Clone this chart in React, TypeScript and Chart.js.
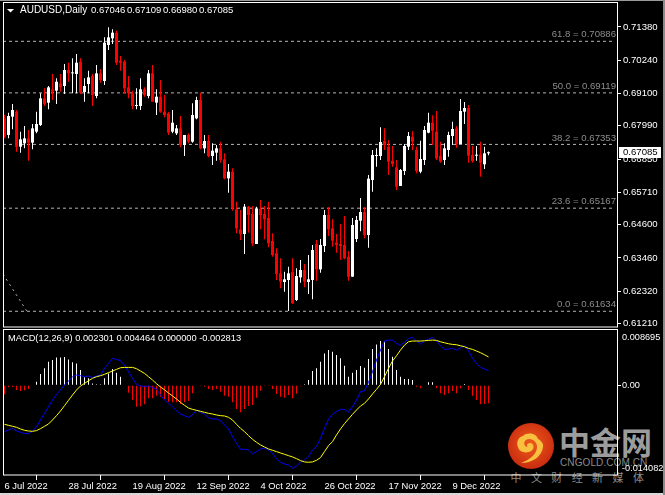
import React, { useEffect, useRef } from "react";
import { Chart, registerables } from "chart.js";

Chart.register(...registerables);

const opens = [0.68246,0.67675,0.68303,0.68474,0.67275,0.67389,0.6756,0.67412,0.67789,0.68017,0.68931,0.68783,0.6924,0.69194,0.69445,0.69354,0.69902,0.69788,0.69765,0.70188,0.69148,0.69422,0.69697,0.69011,0.69788,0.69525,0.70759,0.70987,0.71182,0.70222,0.70188,0.69308,0.69103,0.68668,0.68668,0.6924,0.69011,0.69788,0.68783,0.68988,0.68474,0.68417,0.67789,0.67732,0.67903,0.67332,0.67675,0.67446,0.68246,0.68874,0.67218,0.67469,0.66955,0.67069,0.67218,0.66841,0.6619,0.66418,0.65128,0.64442,0.64282,0.65219,0.64968,0.6394,0.65139,0.64968,0.6483,0.64042,0.6362,0.62934,0.62637,0.62706,0.6298,0.62021,0.62797,0.63048,0.62637,0.62706,0.6394,0.63071,0.63871,0.64933,0.64476,0.63985,0.6394,0.63905,0.63505,0.6282,0.64111,0.64739,0.65036,0.64248,0.66133,0.66955,0.66955,0.67469,0.67275,0.66795,0.66567,0.65927,0.66441,0.67275,0.67618,0.67161,0.66418,0.66818,0.67755,0.68097,0.67789,0.66966,0.66818,0.67161,0.67641,0.67903,0.67366,0.68474,0.686,0.66989,0.66966,0.67012,0.6667,0.67046];
const highs = [0.6836,0.6844,0.68737,0.68531,0.67789,0.67983,0.67846,0.68052,0.68474,0.69103,0.69274,0.69354,0.69765,0.69617,0.69765,0.70108,0.70153,0.70302,0.70451,0.70302,0.69617,0.69879,0.69765,0.70074,0.69925,0.71022,0.71364,0.71296,0.7125,0.70382,0.70245,0.69697,0.69194,0.69274,0.69617,0.69308,0.69902,0.70074,0.6924,0.69559,0.69045,0.68474,0.68531,0.68017,0.68326,0.67675,0.67732,0.6876,0.68988,0.69125,0.67675,0.67675,0.67389,0.67332,0.67446,0.67047,0.66681,0.66533,0.6539,0.65105,0.6531,0.65242,0.65242,0.65219,0.65447,0.65242,0.6539,0.64305,0.63791,0.63448,0.62992,0.63163,0.63448,0.63106,0.63391,0.63254,0.63563,0.63905,0.64077,0.64111,0.65105,0.65196,0.64785,0.64282,0.64625,0.64899,0.63688,0.6483,0.64899,0.65516,0.65196,0.66304,0.67161,0.67218,0.67938,0.67903,0.67503,0.67298,0.66818,0.6651,0.67366,0.67778,0.67801,0.67275,0.67481,0.67983,0.6844,0.68349,0.68497,0.67446,0.67389,0.67789,0.68132,0.67983,0.68908,0.68805,0.68703,0.67298,0.67298,0.67446,0.67275,0.67109];
const lows = [0.6756,0.6756,0.67869,0.67103,0.67069,0.67218,0.66795,0.67184,0.67732,0.67983,0.68668,0.68554,0.68874,0.68737,0.6916,0.6908,0.69502,0.69103,0.69103,0.6908,0.68817,0.69103,0.68668,0.68931,0.69468,0.69388,0.70588,0.70793,0.70074,0.69879,0.69103,0.68931,0.68554,0.68554,0.68531,0.68988,0.68931,0.68817,0.6836,0.6844,0.6828,0.67675,0.67732,0.67675,0.67252,0.66955,0.67389,0.67412,0.68212,0.67184,0.67047,0.66909,0.66646,0.66795,0.66727,0.66156,0.65699,0.65082,0.64305,0.64077,0.63597,0.64328,0.63871,0.6394,0.64442,0.641,0.63825,0.63505,0.62706,0.6242,0.62306,0.61644,0.61884,0.61986,0.62614,0.62454,0.62226,0.62043,0.62683,0.62957,0.63665,0.64214,0.63848,0.63643,0.63391,0.63414,0.62683,0.6282,0.64008,0.64374,0.64134,0.63814,0.65733,0.6659,0.66818,0.67161,0.66304,0.6659,0.6579,0.65927,0.66304,0.67161,0.67161,0.66361,0.66361,0.66647,0.67732,0.67332,0.66818,0.66727,0.66646,0.66932,0.67332,0.67241,0.67366,0.68052,0.66727,0.66727,0.66795,0.66247,0.6651,0.6698];
const closes = [0.67618,0.68326,0.68531,0.67275,0.67526,0.6756,0.67412,0.67903,0.68052,0.68931,0.68737,0.69308,0.6916,0.69502,0.69308,0.69902,0.69788,0.69811,0.70153,0.69125,0.69354,0.69651,0.69045,0.69788,0.69559,0.70839,0.71022,0.71182,0.70153,0.70153,0.69274,0.69103,0.68668,0.68691,0.6924,0.69045,0.69788,0.68817,0.68988,0.68474,0.6836,0.67755,0.68097,0.67903,0.67332,0.67675,0.67446,0.6836,0.68874,0.67218,0.67469,0.66955,0.67138,0.67218,0.66818,0.6619,0.66418,0.65162,0.64476,0.64282,0.65219,0.64933,0.63962,0.6515,0.64933,0.64785,0.63962,0.63563,0.62911,0.62649,0.62729,0.62934,0.61906,0.62843,0.63048,0.62649,0.62729,0.63734,0.63071,0.63905,0.64933,0.64442,0.64054,0.63905,0.63871,0.63448,0.6282,0.64591,0.64762,0.65036,0.64248,0.66178,0.6699,0.6699,0.67435,0.67332,0.66761,0.66681,0.65904,0.66476,0.67298,0.67641,0.67446,0.66441,0.66852,0.67846,0.68097,0.67823,0.66875,0.66761,0.67218,0.67675,0.6788,0.67366,0.68497,0.686,0.66966,0.66784,0.66989,0.66727,0.67047,0.67085];

const macdHist = [-0.00141,-0.00031,-0.00026,-0.00073,-0.00089,-0.00078,-0.00058,0,0.00058,0.00178,0.00267,0.00371,0.00397,0.00439,0.00439,0.00445,0.00408,0.00361,0.00345,0.00241,0.00126,0.0011,0.00031,0.00016,0.00016,0.0011,0.00188,0.00256,0.00199,0.00136,0,-0.00115,-0.0023,-0.00335,-0.00329,-0.00298,-0.00204,-0.00204,-0.00162,-0.00178,-0.00214,-0.00256,-0.00267,-0.00267,-0.00293,-0.00267,-0.00246,-0.00126,0.0001,-0.0001,-0.00021,-0.00058,-0.00073,-0.00058,-0.00099,-0.00162,-0.00178,-0.00267,-0.00371,-0.00424,-0.00371,-0.00324,-0.00309,-0.00194,-0.00084,-0.0001,-0.0001,-0.00058,-0.00136,-0.00178,-0.00194,-0.00152,-0.00204,-0.00131,-0.00016,0.00016,0.00084,0.00225,0.00267,0.00371,0.00502,0.00554,0.00528,0.00476,0.00424,0.00309,0.00136,0.00199,0.00241,0.00303,0.00277,0.00413,0.0057,0.00643,0.00696,0.00696,0.0057,0.0045,0.00241,0.00136,0.00099,0.00099,0.00084,-0.00021,-0.00047,0,0.00047,0.00047,-0.00047,-0.00126,-0.00152,-0.00126,-0.00089,-0.00126,-0.00047,0.00021,-0.00073,-0.00162,-0.0023,-0.00298,-0.00293,-0.002813];
const macdLine = [-0.00727,-0.00701,-0.00675,-0.00717,-0.00737,-0.00758,-0.00758,-0.00717,-0.00649,-0.00544,-0.00439,-0.00335,-0.0023,-0.00141,-0.00073,0.00005,0.00068,0.00136,0.00162,0.00152,0.00136,0.00146,0.00126,0.00146,0.00162,0.00267,0.00345,0.00424,0.00408,0.00387,0.00319,0.00214,0.0011,0.00016,-0.0001,-0.00016,-0.0001,-0.00037,-0.00058,-0.00152,-0.0023,-0.00282,-0.00335,-0.00397,-0.0045,-0.00476,-0.00502,-0.00465,-0.00387,-0.00424,-0.00455,-0.00507,-0.00528,-0.00528,-0.00554,-0.00622,-0.00685,-0.00805,-0.0091,-0.01004,-0.01004,-0.01015,-0.01077,-0.01041,-0.00999,-0.00988,-0.01015,-0.01067,-0.01156,-0.01208,-0.01234,-0.0125,-0.01302,-0.01266,-0.01208,-0.01172,-0.01119,-0.01015,-0.00962,-0.00832,-0.00675,-0.00533,-0.00455,-0.00413,-0.00377,-0.00377,-0.00424,-0.00335,-0.0023,-0.00099,-0.00084,0.00047,0.00214,0.00397,0.00554,0.00696,0.00711,0.00711,0.00659,0.00633,0.00675,0.00737,0.00753,0.00701,0.00649,0.00701,0.00727,0.00753,0.00696,0.00622,0.00565,0.0057,0.00581,0.00554,0.00591,0.00622,0.00539,0.00424,0.00345,0.00282,0.00256,0.002301];
const signalLine = [-0.00612,-0.00628,-0.00643,-0.00659,-0.00685,-0.00706,-0.00717,-0.00722,-0.00711,-0.0068,-0.00643,-0.00607,-0.00544,-0.00476,-0.00403,-0.00319,-0.00235,-0.00152,-0.00073,-0.0001,0.00031,0.00073,0.0011,0.00136,0.00152,0.00173,0.00199,0.00225,0.00251,0.00277,0.00282,0.00282,0.00282,0.00262,0.00225,0.00188,0.00136,0.00084,0.00026,-0.00026,-0.00068,-0.0012,-0.00167,-0.00214,-0.00267,-0.00314,-0.00356,-0.00377,-0.00392,-0.00408,-0.00424,-0.00439,-0.0045,-0.00465,-0.00476,-0.00481,-0.00502,-0.00544,-0.00612,-0.00675,-0.00727,-0.0079,-0.00847,-0.00894,-0.00936,-0.00968,-0.00999,-0.0102,-0.01041,-0.01062,-0.01083,-0.01104,-0.01124,-0.01151,-0.01182,-0.01203,-0.01208,-0.01203,-0.01177,-0.01135,-0.01041,-0.00947,-0.00884,-0.00779,-0.00685,-0.00601,-0.00528,-0.00455,-0.00387,-0.00324,-0.00282,-0.00214,-0.00136,-0.00063,0.00016,0.00136,0.00267,0.00382,0.00465,0.00554,0.00633,0.00685,0.00696,0.00696,0.00696,0.00701,0.00706,0.00711,0.00706,0.00685,0.00669,0.00654,0.00643,0.00638,0.00622,0.00607,0.00581,0.00565,0.00539,0.00513,0.00481,0.004464];

const priceTicks = [0.7138, 0.7024, 0.691, 0.6799, 0.6685, 0.6571, 0.646, 0.6346, 0.6232, 0.6121];
const fibLevels = [61.8, 50.0, 38.2, 23.6, 0.0];
const fibPrices = [0.70886, 0.69119, 0.67353, 0.65167, 0.61634];
const fibTrendX = [-0.375, 5.6];
const fibTrendY = [0.62911, 0.61634];
const dateTickIndex = [0, 16, 32, 48, 64, 80, 96, 112];
const dateTickLabels = ["6 Jul 2022", "28 Jul 2022", "19 Aug 2022", "12 Sep 2022", "4 Oct 2022", "26 Oct 2022", "17 Nov 2022", "9 Dec 2022"];
const macdTickValues = [0.0076, 0, -0.01298];
const macdTickLabels = ["0.008695", "0.00", "-0.014082"];
const headerValues = ["0.67046", "0.67109", "0.66980", "0.67085"];

const XMIN = -0.375;
const XMAX = 153.375;
const FONT = '"Liberation Sans", Arial, sans-serif';
const UP = "#ffffff";
const DOWN = "#ff0000";

const noMargins = (s: any) => {
  s.paddingTop = 0;
  s.paddingBottom = 0;
  s.paddingLeft = 0;
  s.paddingRight = 0;
};

const frame = (extra?: (c: any) => void) => ({
  id: "frame",
  afterDraw(c: any) {
    const { ctx, chartArea: a } = c;
    ctx.save();
    ctx.strokeStyle = "#ffffff";
    ctx.lineWidth = 1;
    ctx.strokeRect(a.left + 0.5, a.top - 0.5, a.right - a.left - 1, a.bottom - a.top + 0.5);
    ctx.restore();
    if (extra) extra(c);
  },
});

const xBase = (show: boolean) => ({
  type: "linear",
  offset: false,
  min: XMIN,
  max: XMAX,
  display: show,
  border: { display: false },
  grid: { drawOnChartArea: false, drawTicks: true, tickLength: 5, color: "#ffffff" },
  afterBuildTicks: (s: any) => {
    s.ticks = dateTickIndex.map((value) => ({ value }));
  },
  afterFit: (s: any) => {
    if (show) s.height = 20;
    noMargins(s);
  },
  ticks: {
    autoSkip: false,
    maxRotation: 0,
    minRotation: 0,
    align: "start",
    padding: 1,
    color: "#ffffff",
    font: { family: FONT, size: 9.4 },
    callback: (_v: any, i: number) => dateTickLabels[i],
  },
});

export default function App() {
  const priceRef = useRef<HTMLCanvasElement>(null);
  const macdRef = useRef<HTMLCanvasElement>(null);

  useEffect(() => {
    const idx = opens.map((_, i) => i);
    const colors = idx.map((i) => (closes[i] >= opens[i] ? UP : DOWN));

    const priceOverlay = (c: any) => {
      const { ctx, scales } = c;
      const y = scales.y;
      ctx.save();
      ctx.textBaseline = "middle";
      // header
      ctx.fillStyle = "#ffffff";
      ctx.beginPath();
      ctx.moveTo(7, 9);
      ctx.lineTo(14, 9);
      ctx.lineTo(10.5, 12.5);
      ctx.closePath();
      ctx.fill();
      ctx.font = `10px ${FONT}`;
      ctx.fillText("AUDUSD,Daily", 20, 10.5);
      ctx.font = `9.5px ${FONT}`;
      headerValues.forEach((t, i) => ctx.fillText(t, 91 + 36 * i, 10.5));
      // fib labels
      ctx.fillStyle = "#8c8c8c";
      ctx.font = `9.6px ${FONT}`;
      ctx.textAlign = "right";
      fibLevels.forEach((lv, i) => {
        ctx.fillText(`${lv.toFixed(1)} = ${fibPrices[i].toFixed(5)}`, 616, y.getPixelForValue(fibPrices[i]) - 6.5);
      });
      // current price
      const py = Math.round(y.getPixelForValue(closes[closes.length - 1]));
      ctx.fillStyle = "#ffffff";
      ctx.fillRect(619, py - 5, 42, 11);
      ctx.fillStyle = "#000000";
      ctx.textAlign = "left";
      ctx.font = `9.6px ${FONT}`;
      ctx.fillText(closes[closes.length - 1].toFixed(5), 623, py + 0.5);
      ctx.restore();
    };

    const macdOverlay = (c: any) => {
      const { ctx } = c;
      ctx.save();
      ctx.textBaseline = "middle";
      ctx.fillStyle = "#ffffff";
      ctx.font = `9.3px ${FONT}`;
      ctx.fillText(
        `MACD(12,26,9) ${macdLine[macdLine.length - 1].toFixed(6)} ${signalLine[signalLine.length - 1].toFixed(6)} 0.000000 ${macdHist[macdHist.length - 1].toFixed(6)}`,
        8,
        9.5
      );
      ctx.restore();
    };

    const price = new Chart(priceRef.current!, {
      type: "bar",
      data: {
        datasets: [
          ...fibPrices.map((p) => ({
            type: "line",
            data: [
              { x: XMIN, y: p },
              { x: 152.4, y: p },
            ],
            borderColor: "#b4b4b4",
            borderWidth: 1,
            borderDash: [3, 3],
            pointRadius: 0,
            order: 5,
          })),
          {
            type: "line",
            data: fibTrendX.map((x, i) => ({ x, y: fibTrendY[i] })),
            borderColor: "#b4b4b4",
            borderWidth: 1,
            borderDash: [2, 4],
            pointRadius: 0,
            order: 5,
          },
          {
            type: "bar",
            data: idx.map((i) => ({ x: i, y: [lows[i], highs[i]] })),
            backgroundColor: colors,
            maxBarThickness: 1,
            barPercentage: 1,
            grouped: false,
            order: 2,
          },
          {
            type: "bar",
            data: idx.map((i) => ({ x: i, y: [Math.min(opens[i], closes[i]), Math.max(opens[i], closes[i])] })),
            backgroundColor: colors,
            maxBarThickness: 3,
            barPercentage: 1,
            minBarLength: 1,
            grouped: false,
            order: 1,
          },
        ],
      } as any,
      options: {
        animation: false,
        responsive: false,
        devicePixelRatio: 1,
        layout: { padding: { left: 3, top: 3, bottom: 2, right: 0 } },
        plugins: { legend: { display: false }, tooltip: { enabled: false } },
        scales: {
          x: xBase(false),
          y: {
            position: "right",
            min: 0.61095,
            max: 0.72199,
            border: { display: false },
            grid: { drawOnChartArea: false, drawTicks: true, tickLength: 3, color: "#ffffff" },
            afterBuildTicks: (s: any) => {
              s.ticks = priceTicks.map((value) => ({ value }));
            },
            afterFit: (s: any) => {
              s.width = 47;
              noMargins(s);
            },
            ticks: {
              padding: 2,
              autoSkip: false,
              color: "#ffffff",
              font: { family: FONT, size: 9.6 },
              callback: (v: any) => Number(v).toFixed(5),
            },
          },
        },
      } as any,
      plugins: [frame(priceOverlay)],
    } as any);

    const macd = new Chart(macdRef.current!, {
      type: "bar",
      data: {
        datasets: [
          {
            type: "line",
            data: idx.map((i) => ({ x: i, y: signalLine[i] })),
            borderColor: "#ffff00",
            borderWidth: 1,
            pointRadius: 0,
            tension: 0,
            order: 1,
          },
          {
            type: "line",
            data: idx.map((i) => ({ x: i, y: macdLine[i] })),
            borderColor: "#0000ff",
            borderWidth: 1,
            pointRadius: 0,
            tension: 0,
            order: 2,
          },
          {
            type: "bar",
            data: idx.map((i) => ({ x: i, y: [0, macdHist[i]] })),
            backgroundColor: idx.map((i) => (macdHist[i] >= 0 ? UP : DOWN)),
            maxBarThickness: 1,
            barPercentage: 1,
            grouped: false,
            order: 3,
          },
        ],
      } as any,
      options: {
        animation: false,
        responsive: false,
        devicePixelRatio: 1,
        layout: { padding: { left: 3, top: 1, bottom: 0, right: 0 } },
        plugins: { legend: { display: false }, tooltip: { enabled: false } },
        scales: {
          x: xBase(true),
          y: {
            position: "right",
            min: -0.014082,
            max: 0.008695,
            border: { display: false },
            grid: {
              drawOnChartArea: false,
              drawTicks: true,
              tickLength: 3,
              color: (ctx: any) => (ctx.index === 1 ? "#ffffff" : "rgba(0,0,0,0)"),
            },
            afterBuildTicks: (s: any) => {
              s.ticks = macdTickValues.map((value) => ({ value }));
            },
            afterFit: (s: any) => {
              s.width = 47;
              noMargins(s);
            },
            ticks: {
              padding: 1,
              autoSkip: false,
              color: "#ffffff",
              font: { family: FONT, size: 9.2 },
              callback: (_v: any, i: number) => macdTickLabels[i],
            },
          },
        },
      } as any,
      plugins: [frame(macdOverlay)],
    } as any);

    return () => {
      price.destroy();
      macd.destroy();
    };
  }, []);

  const wmChars = ["中", "文", "财", "经", "新", "媒", "体"];
  return (
    <div style={{ position: "fixed", left: 0, top: 0, width: 665, height: 495, background: "#000", overflow: "hidden" }}>
      {/* window edges */}
      <div style={{ position: "absolute", left: 0, top: 0, width: 665, height: 1, background: "#9a9a9a" }} />
      <div style={{ position: "absolute", left: 0, top: 493, width: 665, height: 2, background: "#d8d8d8" }} />
      <div style={{ position: "absolute", left: 663, top: 0, width: 2, height: 495, background: "#8a8a8a" }} />
      {/* watermark */}
      <svg width={48} height={48} viewBox="0 0 48 48" style={{ position: "absolute", left: 507, top: 422 }}>
        <defs>
          <radialGradient id="wm" cx="50%" cy="45%" r="55%">
            <stop offset="0%" stopColor="#ee5a1a" />
            <stop offset="100%" stopColor="#c92c10" />
          </radialGradient>
        </defs>
        <circle cx="24" cy="24" r="23" fill="url(#wm)" />
        <path
          d="M14 41 C26 41 35 34 36 25 C37 21 33 18 31 17 C29 11 20 10 16 14 C11 15 9 21 11 25 C12 30 19 32 24 29 C28 27 27 21 23 21 C20 21 19 24 21 25 C17 25 16 20 19 18 C24 15 31 20 30 26 C29 33 22 38 14 41 Z"
          fill="#f8c040"
        />
      </svg>
      <div
        style={{
          position: "absolute",
          left: 559,
          top: 420,
          fontFamily: '"Noto Sans CJK SC", sans-serif',
          fontWeight: 700,
          fontSize: 31,
          lineHeight: "42px",
          color: "#9c9c9c",
          whiteSpace: "nowrap",
        }}
      >
        中金网
      </div>
      <div
        style={{
          position: "absolute",
          left: 560,
          top: 457,
          fontFamily: FONT,
          fontSize: 10,
          lineHeight: "12px",
          letterSpacing: 0.1,
          color: "#8c8c8c",
          whiteSpace: "nowrap",
        }}
      >
        CNGOLD.COM.CN
      </div>
      {wmChars.map((ch, i) => (
        <div
          key={ch}
          style={{
            position: "absolute",
            left: 510.5 + 20.4 * i,
            top: 470,
            fontFamily: '"Noto Sans CJK SC", sans-serif',
            fontSize: 11,
            lineHeight: "14px",
            color: "#8c8c8c",
          }}
        >
          {ch}
        </div>
      ))}
      <canvas ref={priceRef} width={665} height={329} style={{ position: "absolute", left: 0, top: 0, width: 665, height: 329 }} />
      <canvas ref={macdRef} width={665} height={166} style={{ position: "absolute", left: 0, top: 329, width: 665, height: 166 }} />
    </div>
  );
}
